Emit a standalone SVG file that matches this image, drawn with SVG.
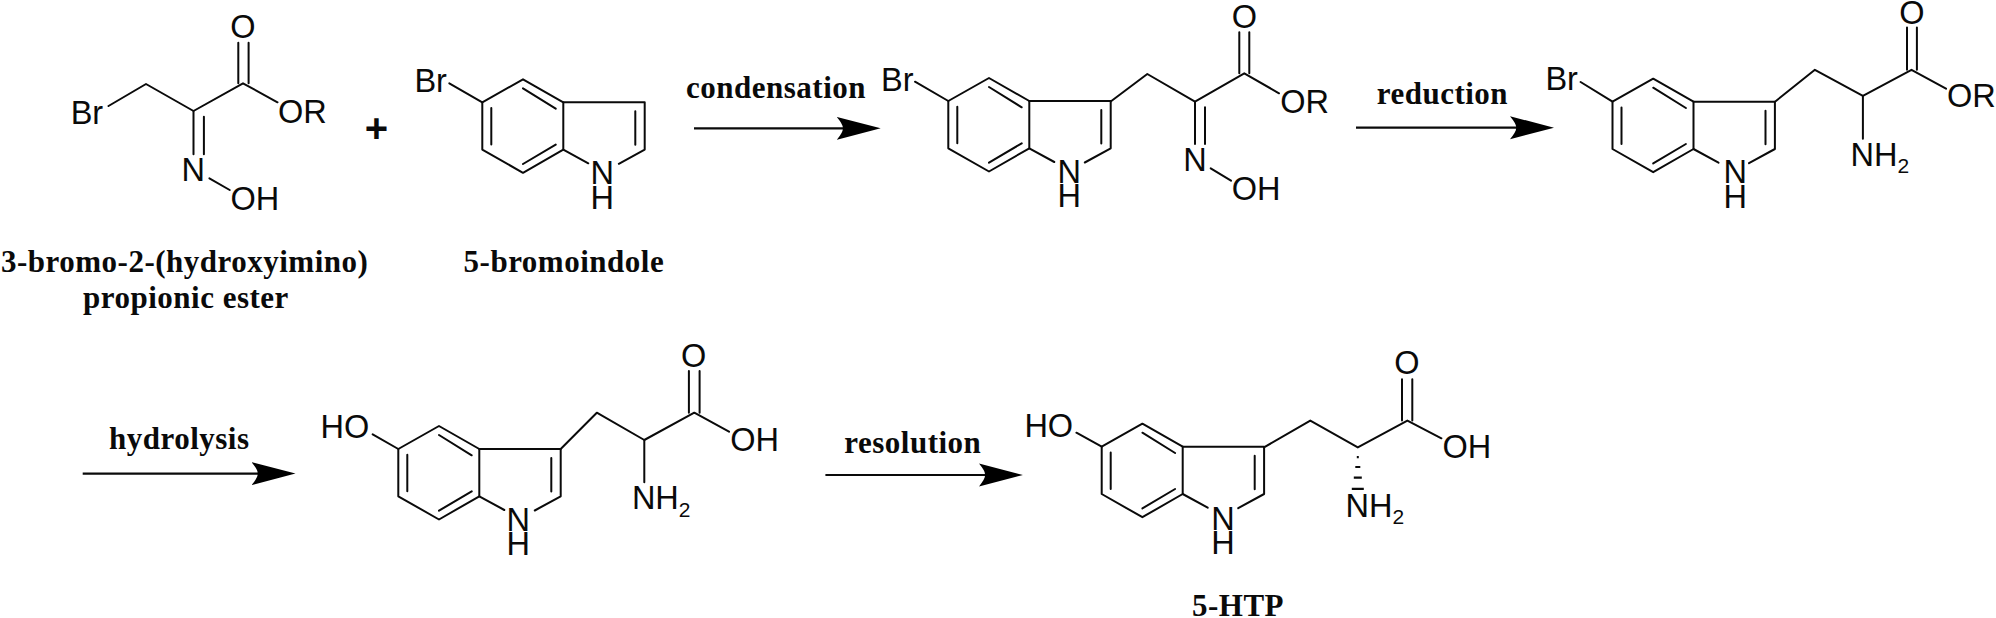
<svg xmlns="http://www.w3.org/2000/svg" xmlns:xlink="http://www.w3.org/1999/xlink" width="1996" height="618" viewBox="0 0 1996 618">
<style>
.b{fill:none;stroke:#0a0a0a;stroke-width:2;stroke-linejoin:round;stroke-linecap:round}
.a{font-family:"Liberation Sans",Arial,sans-serif;font-size:32.5px;fill:#0a0a0a}
.m{text-anchor:middle}
.s{font-size:21px}
.l{font-family:"Liberation Serif","Times New Roman",serif;font-size:31px;font-weight:bold;letter-spacing:.5px;fill:#0a0a0a}
.h{fill:none;stroke:#0a0a0a;stroke-width:2.2}
.arrow{fill:none;stroke:#0a0a0a;stroke-width:2.2;marker-end:url(#head)}
</style>
<defs>
<marker id="head" markerUnits="userSpaceOnUse" markerWidth="44" markerHeight="24" viewBox="0 0 44 24" refX="14" refY="12" orient="auto">
<path d="M44 12L0 .5Q7 9 6 12Q7 15 0 23.5Z" fill="#000"/>
</marker>
<g id="indole">
<path class="b" d="M0 0L40.7 -23L81 0V47.3L40.7 70.5L0 47.3Z"/>
<path class="b" d="M9 5.7V42.3M40.7 -14L73.4 6.3M40.7 61.7L73.4 42.3"/>
<path class="b" d="M81 0H162.4V47.3L136.5 61.5M81 47.3L106 61M153 9V42.5"/>
</g>
</defs>
<rect width="1996" height="618" fill="#fff"/>

<g id="mol1">
<path class="b" d="M108.5 106L146 84L193.5 111L243 83.3L277.5 102.3"/>
<path class="b" d="M238.3 83.3V42.7M248.6 83.3V42.7M193.5 111V154.3M203.9 116.7V154.3M209.4 178.3L229.7 190"/>
<text class="a" x="70.7" y="124">Br</text>
<text class="a" x="278.1" y="123.3">OR</text>
<text class="a m" x="242.8" y="38">O</text>
<text class="a" x="181.6" y="181">N</text>
<text class="a" x="230.5" y="210">OH</text>
</g>

<text id="plus" class="a m" x="376.5" y="142" style="font-size:40px;font-weight:bold">+</text>

<g id="mol2">
<use href="#indole" xlink:href="#indole" x="482.3" y="102.3"/>
<path class="b" d="M449.3 83.3L482.3 102.3"/>
<text class="a" x="414.4" y="92">Br</text>
<text class="a" x="590.6" y="184.3">N</text>
<text class="a" x="590.6" y="208.5">H</text>
</g>

<g id="mol3">
<use href="#indole" xlink:href="#indole" x="948.3" y="101"/>
<path class="b" d="M915 81.7L948.3 101M1110.7 101.5L1147.3 74L1195 101.7L1244.3 73.3L1279 93.3"/>
<path class="b" d="M1239.3 73.3V32.3M1249.3 73.3V32.3M1195 101.7V144M1205 107.3V144M1210.7 168.3L1231 180.7"/>
<text class="a" x="881" y="90.7">Br</text>
<text class="a" x="1057.6" y="183">N</text>
<text class="a" x="1057.6" y="207">H</text>
<text class="a m" x="1244.3" y="28.2">O</text>
<text class="a" x="1280.2" y="112.7">OR</text>
<text class="a" x="1183.3" y="171">N</text>
<text class="a" x="1231.8" y="199.5">OH</text>
</g>

<g id="mol4">
<use href="#indole" xlink:href="#indole" x="1612.5" y="101.7"/>
<path class="b" d="M1580.6 82L1612.5 101.7M1775 101.7L1814.9 69.8L1862.9 95.8L1911.5 69.8L1946 88.7"/>
<path class="b" d="M1907 69.8V27.6M1916.9 69.8V27.6M1862.9 95.8V138.7"/>
<text class="a" x="1545.4" y="90">Br</text>
<text class="a" x="1723.4" y="183.3">N</text>
<text class="a" x="1723.4" y="207.7">H</text>
<text class="a m" x="1912" y="24">O</text>
<text class="a" x="1947" y="107.2">OR</text>
<text class="a" x="1850.6" y="165.5">NH<tspan class="s" dy="7.3">2</tspan></text>
</g>

<g id="mol5">
<use href="#indole" xlink:href="#indole" x="398.3" y="449"/>
<path class="b" d="M372.7 434.3L398.3 449M560.7 449L596.8 412.7L644.3 440L694.3 412.7L729 431.7"/>
<path class="b" d="M688.9 412.7V371M699.6 412.7V371M644.3 440V482.3"/>
<text class="a" x="320.5" y="438.3">HO</text>
<text class="a" x="506.6" y="531">N</text>
<text class="a" x="506.6" y="555">H</text>
<text class="a m" x="693.6" y="366.5">O</text>
<text class="a" x="730.3" y="450.7">OH</text>
<text class="a" x="631.9" y="509.3">NH<tspan class="s" dy="7.3">2</tspan></text>
</g>

<g id="mol6">
<use href="#indole" xlink:href="#indole" x="1101.7" y="446.7"/>
<path class="b" d="M1076.4 432.7L1101.7 446.7M1264 447.4L1310.3 420.6L1357.8 447.4L1407.4 420.6L1441.4 438.3"/>
<path class="b" d="M1402 420.6V379.2M1412.3 420.6V379.2"/>
<path class="h" d="M1356.8 457.2h2M1355.3 467h5M1353.8 477.7h8M1351.8 488.8h12"/>
<text class="a" x="1024.4" y="436.5">HO</text>
<text class="a" x="1211.3" y="530">N</text>
<text class="a" x="1211.3" y="553.8">H</text>
<text class="a m" x="1406.9" y="374">O</text>
<text class="a" x="1442.5" y="458.4">OH</text>
<text class="a" x="1345.6" y="517">NH<tspan class="s" dy="7.3">2</tspan></text>
</g>

<g id="connectors">
<line class="arrow" x1="694" y1="128.3" x2="850.7" y2="128.3"/>
<line class="arrow" x1="1356" y1="127.7" x2="1524" y2="127.7"/>
<line class="arrow" x1="82.7" y1="473.6" x2="265.5" y2="473.6"/>
<line class="arrow" x1="825.4" y1="475" x2="992.9" y2="475"/>
</g>

<g id="labels">
<text class="l" x="1" y="271.7">3-bromo-2-(hydroxyimino)</text>
<text class="l" x="83" y="308">propionic ester</text>
<text class="l" x="463.6" y="271.7">5-bromoindole</text>
<text class="l" x="686" y="98.3">condensation</text>
<text class="l" x="1376.7" y="104">reduction</text>
<text class="l" x="109" y="449">hydrolysis</text>
<text class="l" x="844.3" y="452.7">resolution</text>
<text class="l" x="1192" y="615.7">5-HTP</text>
</g>
</svg>
